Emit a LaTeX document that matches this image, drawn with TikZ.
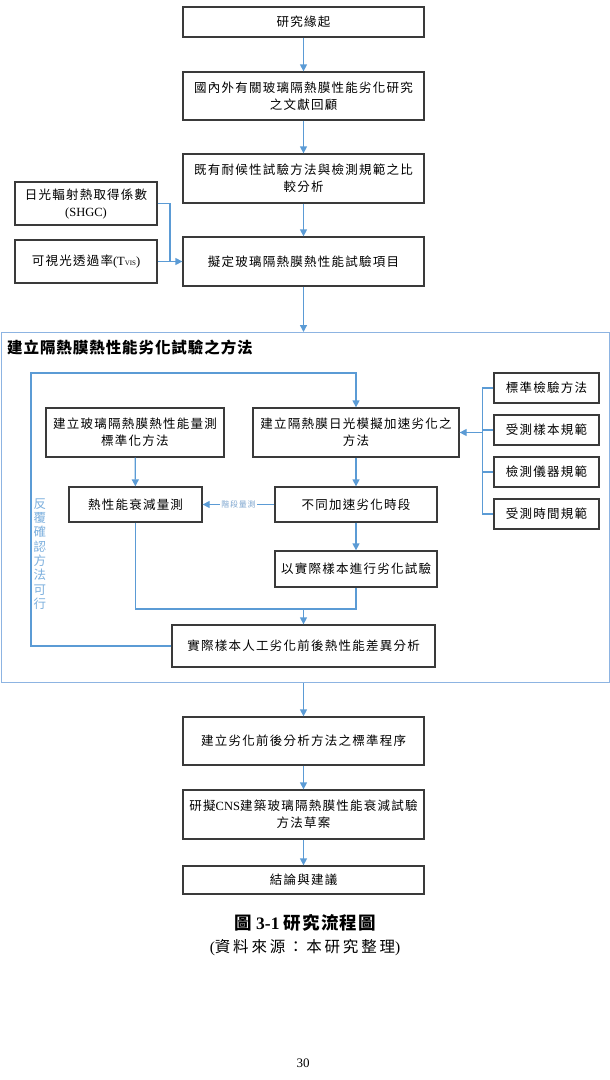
\documentclass[tikz,border=0pt]{standalone}
\usepackage{fontspec}
\setmainfont{Liberation Serif}
\newfontfamily\cjk[LetterSpace=10]{Noto Sans CJK TC}
\newfontfamily\cjkt[LetterSpace=6]{Noto Sans CJK TC}
\newfontfamily\cjks[LetterSpace=18]{Noto Sans CJK TC}
\usetikzlibrary{arrows.meta}
\definecolor{boxc}{HTML}{3A3A3A}
\definecolor{linec}{HTML}{5B9BD5}
\definecolor{contc}{HTML}{8DB4E2}
\definecolor{lblc}{HTML}{7FA7D0}
\tikzset{
  bx/.style={draw=boxc, line width=1.3pt, inner sep=2pt, align=center,
    font={\fontsize{12.5}{17}\selectfont\cjk}, fill=white},
  mainbox/.style={bx, minimum width=241pt},
  conn/.style={draw=linec, line width=1.3pt},
  arr/.style={conn, -{Triangle[length=7pt,width=7pt]}},
}
\begin{document}
\begin{tikzpicture}[x=1pt,y=-1pt]
\useasboundingbox (0,0) rectangle (610,1080);
% container
\node[draw=contc, line width=1.3pt, minimum width=608pt, minimum height=350pt, anchor=north west, inner sep=0pt] (cont) at (0.8,332) {};
\node[anchor=west, font={\fontsize{15.5}{18}\selectfont\cjkt\bfseries}, inner sep=0pt] (title) at (7,348) {建立隔熱膜熱性能劣化試驗之方法};
% top boxes
\node[mainbox, minimum height=30pt] (b1) at (303.5,22) {研究緣起};
\node[mainbox, minimum height=48pt] (b2) at (303.5,96) {國內外有關玻璃隔熱膜性能劣化研究\\之文獻回顧};
\node[mainbox, minimum height=49pt] (b3) at (303.5,178.5) {既有耐候性試驗方法與檢測規範之比\\較分析};
\node[mainbox, minimum height=49pt] (b4) at (303.5,261.5) {擬定玻璃隔熱膜熱性能試驗項目};
\node[bx, minimum width=142pt, minimum height=43pt] (shgc) at (86,203.5) {日光輻射熱取得係數\\{\rmfamily (SHGC)}};
\node[bx, minimum width=142pt, minimum height=43pt] (tvis) at (86,261.5) {可視光透過率{\rmfamily (T{\scriptsize VIS})}};
% inner boxes
\node[bx, minimum width=178pt, minimum height=49pt] (A) at (135,432.5) {建立玻璃隔熱膜熱性能量測\\標準化方法};
\node[bx, minimum width=206pt, minimum height=49pt] (B) at (356,432.5) {建立隔熱膜日光模擬加速劣化之\\方法};
\node[bx, minimum width=105pt, minimum height=30pt] (R1) at (546.5,388) {標準檢驗方法};
\node[bx, minimum width=105pt, minimum height=30pt] (R2) at (546.5,430) {受測樣本規範};
\node[bx, minimum width=105pt, minimum height=30pt] (R3) at (546.5,472) {檢測儀器規範};
\node[bx, minimum width=105pt, minimum height=30pt] (R4) at (546.5,514) {受測時間規範};
\node[bx, minimum width=133pt, minimum height=35pt] (C) at (135.5,504.5) {熱性能衰減量測};
\node[bx, minimum width=162pt, minimum height=35pt] (D) at (356,504.5) {不同加速劣化時段};
\node[bx, minimum width=162pt, minimum height=36pt] (E) at (356,569) {以實際樣本進行劣化試驗};
\node[bx, minimum width=263pt, minimum height=42pt] (F) at (303.5,646) {實際樣本人工劣化前後熱性能差異分析};
\node[font={\fontsize{12.5}{14.3}\selectfont\cjk}, text=linec!80, align=center, inner sep=0pt] (vt) at (40,554) {反\\覆\\確\\認\\方\\法\\可\\行};
% bottom boxes
\node[mainbox, minimum height=48pt] (G) at (303.5,741) {建立劣化前後分析方法之標準程序};
\node[mainbox, minimum height=49pt] (H) at (303.5,814.5) {研擬{\rmfamily CNS}建築玻璃隔熱膜性能衰減試驗\\方法草案};
\node[mainbox, minimum height=28pt] (I) at (303.5,880) {結論與建議};
\node[font={\fontsize{17.5}{20}\selectfont\bfseries}] (cap) at (305,923) {{\cjkt 圖} 3-1 {\cjkt 研究流程圖}};
\node[font={\fontsize{15.5}{18}\selectfont}] (src) at (305,948) {({\cjks 資料來源：本研究整理})};
\node[font={\fontsize{13}{15}\selectfont}] (pg) at (303,1063) {30};
% coordinates
\coordinate (j1) at (170,0);
\coordinate (busx) at (482.5,0);
\coordinate (loopx) at (31,373);
\coordinate (mrg) at (303.5,609);
% connectors
\draw[arr] (b1) -- (b2);
\draw[arr] (b2) -- (b3);
\draw[arr] (b3) -- (b4);
\draw[conn] (shgc.east) -| (j1 |- b4.west);
\draw[arr] (tvis.east) -- (b4.west);
\draw[arr] (b4.south) -- (b4.south |- cont.north);
\draw[arr] (F.west) -| (loopx) -| (B.north);
\draw[arr] (A) -- (C);
\draw[arr] (B) -- (D);
\draw[arr] (D) -- (E);
\draw[arr] (D.west) -- node[fill=white, inner sep=1pt, text=lblc, font={\fontsize{8}{9}\selectfont\cjk}] (lbl) {階段量測} (C.east);
\draw[conn] (R1.west) -- (R1.west -| busx) -- (R4.west -| busx) -- (R4.west);
\draw[conn] (R2.west) -- (R2.west -| busx);
\draw[conn] (R3.west) -- (R3.west -| busx);
\draw[arr] (B.east -| busx) -- (B.east);
\draw[conn] (C.south) |- (mrg) -| (E.south);
\draw[arr] (mrg) -- (F.north);
\draw[arr] (G.north |- cont.south) -- (G.north);
\draw[arr] (G) -- (H);
\draw[arr] (H) -- (I);
\end{tikzpicture}
\end{document}
